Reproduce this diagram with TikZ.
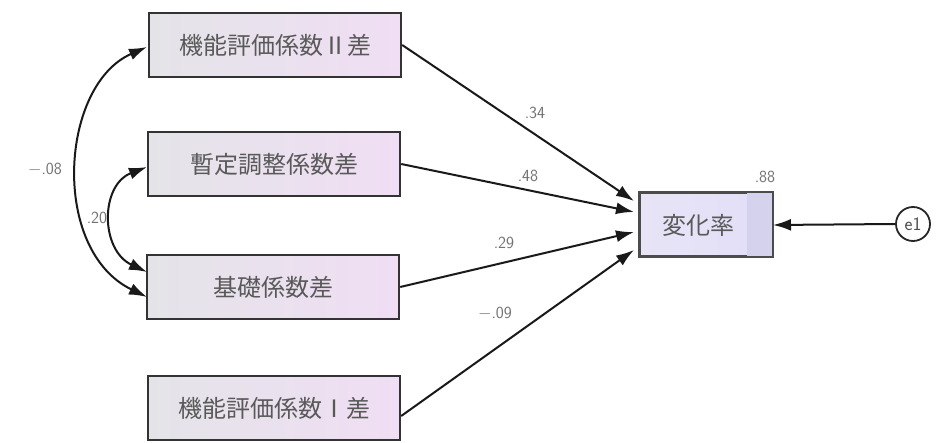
\documentclass[tikz,border=0pt]{standalone}
\usepackage{fontspec}
\newfontfamily\cjk{Noto Sans CJK JP}
\usetikzlibrary{arrows.meta,shapes.geometric}
\definecolor{boxL}{RGB}{228,228,232}
\definecolor{boxM}{RGB}{226,224,244}
\definecolor{boxR}{RGB}{240,222,244}
\definecolor{tgtL}{RGB}{232,228,246}
\definecolor{tgtR}{RGB}{226,222,248}
\definecolor{tgtS}{RGB}{212,210,236}
\tikzset{
  varbox/.style={draw=black!80, line width=2.4pt, minimum width=252pt, minimum height=64pt,
    left color=boxL, middle color=boxM, right color=boxR, inner sep=0pt,
    font=\cjk\fontsize{24}{26}\selectfont, text=black!65},
  tgtbox/.style={draw=black!70, line width=2pt, minimum width=132pt, minimum height=63pt,
    left color=tgtL, right color=tgtR, inner sep=0pt},
  tgttext/.style={font=\cjk\fontsize{24}{26}\selectfont, text=black!65},
  errc/.style={circle, draw=black!85, line width=1.8pt, minimum size=34pt, inner sep=0pt,
    font=\sffamily\fontsize{19}{20}\selectfont, text=black!70},
  path/.style={line width=2pt, draw=black!90, -{Latex[length=18pt,width=12pt]}},
  cov/.style={line width=2pt, draw=black!90, {Latex[length=18pt,width=12pt]}-{Latex[length=18pt,width=12pt]}},
  num/.style={font=\sffamily\fontsize{17}{18}\selectfont, text=black!55, inner sep=1pt}
}
\begin{document}
\begin{tikzpicture}[x=1pt,y=-1pt]
\useasboundingbox (0,0) rectangle (937,443);
\node[varbox] (b1) at (275,45) {機能評価係数Ⅱ差};
\node[varbox] (b2) at (274,164) {暫定調整係数差};
\node[varbox] (b3) at (273,287) {基礎係数差};
\node[varbox] (b4) at (274,408) {機能評価係数Ⅰ差};
\node[tgtbox] (t) at (706,225) {};
\fill[tgtS] ([xshift=-26pt,yshift=-1pt]t.north east) rectangle ([xshift=-1pt,yshift=1pt]t.south east);
\draw[black!70, line width=2pt] (t.north west) rectangle (t.south east);
\node[tgttext] (tt) at ([xshift=-8pt]t.center) {変化率};
\node[errc] (e) at (913,224) {e1};
\coordinate (t1) at (634,201);
\coordinate (t2) at (634,212);
\coordinate (t3) at (634,232);
\coordinate (t4) at (634,250);
\draw[path] (b1.east) -- (t1);
\draw[path] (b2.east) -- (t2);
\draw[path] (b3.east) -- (t3);
\draw[path] ([yshift=-8pt]b4.east) -- (t4);
\draw[path] (e.west) -- (t.east);
\coordinate (c1) at (147,47);
\coordinate (c3) at (147,297);
\coordinate (c2) at (147,167);
\coordinate (c3b) at (147,272);
\draw[cov] (c1) .. controls (60,85) and (50,250) .. (c3);
\draw[cov] (c2) .. controls (100,185) and (100,250) .. (c3b);
\node[num] (n1) at (535,113) {.34};
\node[num] (n2) at (528,176) {.48};
\node[num] (n3) at (504,243) {.29};
\node[num] (n4) at (495,314) {$-$.09};
\node[num] (n5) at (45,170) {$-$.08};
\node[num] (n6) at (97,218) {.20};
\node[num] (n7) at (765,177) {.88};
\end{tikzpicture}
\end{document}
